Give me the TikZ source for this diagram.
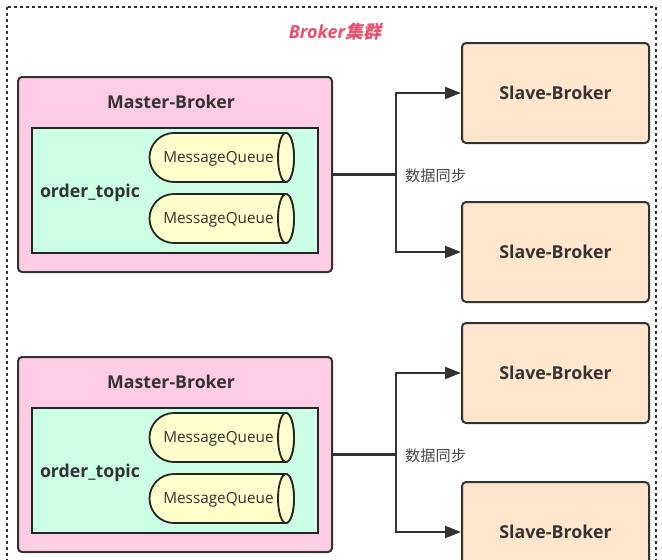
\documentclass[tikz,border=0pt]{standalone}
\usepackage{fontspec}
\setmainfont{Open Sans}
\newfontfamily\cjk{Noto Sans CJK SC}
\newfontfamily\cjkslant{Noto Sans CJK SC}[FakeSlant=0.22]
\usetikzlibrary{arrows.meta}
\definecolor{masterfill}{HTML}{FFCCE6}
\definecolor{topicfill}{HTML}{CCFFE6}
\definecolor{queuefill}{HTML}{FFFFCC}
\definecolor{slavefill}{HTML}{FFE6CC}
\definecolor{ink}{HTML}{333333}
\definecolor{titlered}{HTML}{E8506A}
\tikzset{
  masterbox/.style={draw=ink, line width=2pt, fill=masterfill, rounded corners=4pt, minimum width=314pt, minimum height=195pt, inner sep=0pt},
  topicbox/.style={draw=black!85, line width=2.5pt, fill=topicfill, minimum width=286pt, minimum height=125pt, inner sep=0pt},
  slavebox/.style={draw=ink, line width=2pt, fill=slavefill, rounded corners=4pt, minimum width=187pt, minimum height=100pt, inner sep=0pt, font=\fontsize{17.8}{20}\selectfont\bfseries, text=ink},
  headtext/.style={font=\fontsize{17.7}{20}\selectfont\bfseries, text=ink, inner sep=0pt},
  queuetext/.style={font=\fontsize{15.3}{18}\selectfont, text=ink, inner sep=0pt},
  queueshape/.style={draw=black!85, line width=1.8pt, fill=queuefill},
  link/.style={draw=ink, line width=2.2pt},
  arrowlink/.style={link, -{Triangle[length=16pt,width=12pt]}},
  synctext/.style={font=\cjk\fontsize{15.2}{17}\selectfont, text=ink!90, inner sep=0pt, anchor=west},
  frame/.style={draw=ink, line width=1.4pt, dash pattern=on 3pt off 3pt}
}
\begin{document}
\begin{tikzpicture}[x=1pt, y=-1pt]
\useasboundingbox (0,0) rectangle (662,560);
\draw[frame] (7,7) rectangle (656,620);
\node[inner sep=0pt, text=titlered, font=\fontsize{18}{21}\selectfont] (title) at (335,32) {\bfseries\itshape Broker\cjkslant\bfseries 集群};
\foreach \g/\dy in {1/0, 2/280} {
  \node[masterbox] (m\g) at (175,174.5+\dy) {};
  \node[headtext] (mt\g) at (171,102+\dy) {Master-Broker};
  \node[topicbox] (t\g) at (175,190.5+\dy) {};
  \node[headtext] (o\g) at (90,193+\dy) {order\_topic};
  \foreach \q/\qy in {a/157.5, b/218.5} {
    \path[queueshape] (174,\qy-24.5+\dy) -- (286,\qy-24.5+\dy)
       arc[start angle=-90, end angle=90, x radius=8, y radius=24.5]
       -- (174,\qy+24.5+\dy)
       arc[start angle=90, end angle=270, radius=24.5] -- cycle;
    \path[queueshape] (286,\qy+\dy) ellipse[x radius=8, y radius=24.5];
    \node[queuetext] (q\g\q) at (218.5,\qy+1+\dy) {MessageQueue};
  }
  \node[slavebox] (sa\g) at (555.5,93+\dy) {Slave-Broker};
  \node[slavebox] (sb\g) at (555.5,252+\dy) {Slave-Broker};
  \coordinate (b\g) at (396,174.5+\dy);
  \draw[link] (m\g.east) -- (b\g);
  \draw[arrowlink] (b\g) |- (sa\g.west);
  \draw[arrowlink] (b\g) |- (sb\g.west);
  \node[synctext] (l\g) at (405,176+\dy) {数据同步};
}
\end{tikzpicture}
\end{document}
